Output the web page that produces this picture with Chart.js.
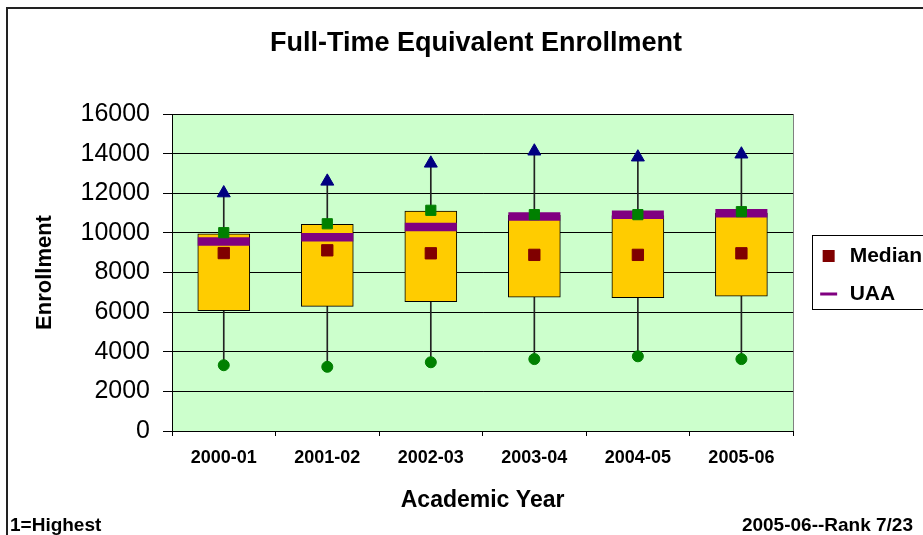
<!DOCTYPE html>
<html>
<head>
<meta charset="utf-8">
<title>Full-Time Equivalent Enrollment</title>
<script src="https://cdn.jsdelivr.net/npm/chart.js@4.4.1/dist/chart.umd.min.js"></script>
<style>
  html, body { margin: 0; padding: 0; background: #fff; overflow: hidden; }
</style>
</head>
<body>
<canvas id="enrollChart" width="932" height="535"></canvas>
<script>
// values
var categories = ['2000-01', '2001-02', '2002-03', '2003-04', '2004-05', '2005-06'];
var highValues = [12010, 12600, 13510, 14120, 13820, 13970];    // blue triangles
var upperValues = [10010, 10460, 11140, 10920, 10920, 11070];   // green squares
var boxTop = [9950, 10430, 11100, 10880, 10870, 11000];
var boxBottom = [6070, 6290, 6530, 6750, 6730, 6810];
var medianValues = [8980, 9120, 8970, 8890, 8890, 8970];
var uaaValues = [9560, 9780, 10300, 10830, 10920, 10990];
var lowValues = [3320, 3240, 3470, 3630, 3770, 3630];           // green dots
var yTicks = [0, 2000, 4000, 6000, 8000, 10000, 12000, 14000, 16000];
var footLeft = '1=Highest';
var footRight = '2005-06--Rank 7/23';

Chart.defaults.font.family = '"Liberation Sans", Arial, sans-serif';
Chart.defaults.color = '#000';

var whiskers = categories.map(function (c, i) { return [lowValues[i], highValues[i]]; });
var boxes = categories.map(function (c, i) { return [boxBottom[i], boxTop[i]]; });

// green plot area + grey right edge
var plotBackground = {
    id: 'plotBackground',
    beforeDraw: function (chart) {
        var a = chart.chartArea;
        var ctx = chart.ctx;
        ctx.save();
        ctx.fillStyle = '#CCFFCC';
        ctx.fillRect(a.left, a.top, a.right - a.left, a.bottom - a.top);
        ctx.strokeStyle = '#808080';
        ctx.lineWidth = 1;
        ctx.beginPath();
        ctx.moveTo(Math.round(a.right) + 0.5, a.top);
        ctx.lineTo(Math.round(a.right) + 0.5, a.bottom);
        ctx.stroke();
        ctx.restore();
    }
};

// box around the legend
var legendFrame = {
    id: 'legendFrame',
    afterDraw: function (chart) {
        var hb = chart.legend && chart.legend.legendHitBoxes;
        if (!hb || !hb.length) return;
        var first = hb[0], last = hb[hb.length - 1];
        var top = Math.round(first.top - 11) + 0.5;
        var bottom = Math.round(last.top + last.height + 4) + 0.5;
        var ctx = chart.ctx;
        ctx.save();
        ctx.strokeStyle = '#000';
        ctx.lineWidth = 1;
        ctx.strokeRect(Math.round(first.left - 6) + 0.5, top, 300, bottom - top);
        ctx.restore();
    }
};

// outer frame and footer notes
var pageFrame = {
    id: 'pageFrame',
    afterDraw: function (chart) {
        var ctx = chart.ctx;
        ctx.save();
        ctx.strokeStyle = '#222';
        ctx.lineWidth = 2;
        ctx.beginPath();
        ctx.moveTo(7, chart.height);
        ctx.lineTo(7, 8);
        ctx.lineTo(chart.width, 8);
        ctx.stroke();
        ctx.fillStyle = '#000';
        ctx.font = 'bold 19px "Liberation Sans", Arial, sans-serif';
        ctx.textBaseline = 'alphabetic';
        ctx.textAlign = 'left';
        ctx.fillText(footLeft, 10, 531);
        ctx.textAlign = 'right';
        ctx.fillText(footRight, 913, 531);
        ctx.restore();
    }
};

var ctx = document.getElementById('enrollChart').getContext('2d');
var enrollChart = new Chart(ctx, {
    type: 'bar',
    data: {
        labels: categories,
        datasets: [
            {
                type: 'line',
                label: 'Median',
                data: medianValues,
                showLine: false,
                pointStyle: 'rect',
                pointRadius: 8,
                pointBorderWidth: 1,
                backgroundColor: '#800000',
                borderColor: '#800000',
                order: 1
            },
            {
                type: 'line',
                label: 'High',
                data: highValues,
                showLine: false,
                pointStyle: 'triangle',
                pointRadius: 7.5,
                pointBorderWidth: 1,
                backgroundColor: '#000080',
                borderColor: '#000080',
                order: 2
            },
            {
                type: 'line',
                label: 'Low',
                data: lowValues,
                showLine: false,
                pointStyle: 'circle',
                pointRadius: 5.5,
                pointBorderWidth: 1,
                backgroundColor: '#008000',
                borderColor: '#008000',
                order: 2
            },
            {
                type: 'line',
                label: 'Upper',
                data: upperValues,
                showLine: false,
                pointStyle: 'rect',
                pointRadius: 7.2,
                pointBorderWidth: 1,
                backgroundColor: '#008000',
                borderColor: '#008000',
                order: 3
            },
            {
                type: 'line',
                label: 'UAA',
                data: uaaValues,
                showLine: false,
                pointStyle: 'line',
                pointRadius: 26,
                pointBorderWidth: 8.5,
                backgroundColor: '#800080',
                borderColor: '#800080',
                order: 4
            },
            {
                label: 'Range',
                data: boxes,
                grouped: false,
                barThickness: 52,
                backgroundColor: '#FFCC00',
                borderColor: '#000',
                borderWidth: 1,
                borderSkipped: false,
                order: 5
            },
            {
                label: 'Whisker',
                data: whiskers,
                grouped: false,
                barThickness: 1,
                backgroundColor: '#222',
                borderWidth: 0,
                order: 6
            }
        ]
    },
    options: {
        responsive: false,
        animation: false,
        events: [],
        layout: { padding: { top: 15, left: 20, right: 0, bottom: 0 } },
        plugins: {
            title: {
                display: true,
                text: 'Full-Time Equivalent Enrollment',
                color: '#000',
                font: { size: 27, weight: 'bold' },
                padding: { top: 12, bottom: 54.6 }
            },
            legend: {
                position: 'right',
                labels: {
                    usePointStyle: true,
                    boxWidth: 21,
                    boxHeight: 12,
                    padding: 17,
                    color: '#000',
                    font: { size: 21, weight: 'bold' },
                    filter: function (item) {
                        return item.text === 'Median' || item.text === 'UAA';
                    },
                    generateLabels: function (chart) {
                        var items = Chart.defaults.plugins.legend.labels.generateLabels(chart);
                        items.forEach(function (it) {
                            if (it.text === 'UAA') it.lineWidth = 3;
                            if (it.text === 'Median') it.lineWidth = 0;
                        });
                        return items;
                    }
                }
            },
            tooltip: { enabled: false }
        },
        scales: {
            x: {
                offset: true,
                grid: { display: true, drawOnChartArea: false, offset: true, tickLength: 5, color: '#000' },
                border: { color: '#000' },
                ticks: { color: '#000', padding: 11, font: { size: 18, weight: 'bold' } },
                title: {
                    display: true,
                    text: 'Academic Year',
                    color: '#000',
                    font: { size: 23, weight: 'bold' },
                    padding: { top: 0, bottom: 21 }
                },
                afterFit: function (s) { s.height = 104; }
            },
            y: {
                min: 0,
                max: 16000,
                afterBuildTicks: function (s) {
                    s.ticks = yTicks.map(function (v) { return { value: v }; });
                },
                grid: { color: '#000', tickLength: 9 },
                border: { color: '#000' },
                ticks: {
                    color: '#000',
                    padding: 13,
                    font: { size: 25 },
                    callback: function (v) { return String(v); }
                },
                title: {
                    display: true,
                    text: 'Enrollment',
                    color: '#000',
                    font: { size: 22, weight: 'bold' },
                    padding: { top: 12, bottom: 0 }
                },
                afterFit: function (s) { s.width = 152; }
            },
            // empty axis, only keeps a gap between plot and legend
            gap: {
                type: 'linear',
                axis: 'y',
                position: 'right',
                display: true,
                grid: { display: false },
                ticks: { display: false },
                border: { display: false },
                afterFit: function (s) { s.width = 8; }
            }
        }
    },
    plugins: [plotBackground, legendFrame, pageFrame]
});
</script>
</body>
</html>
